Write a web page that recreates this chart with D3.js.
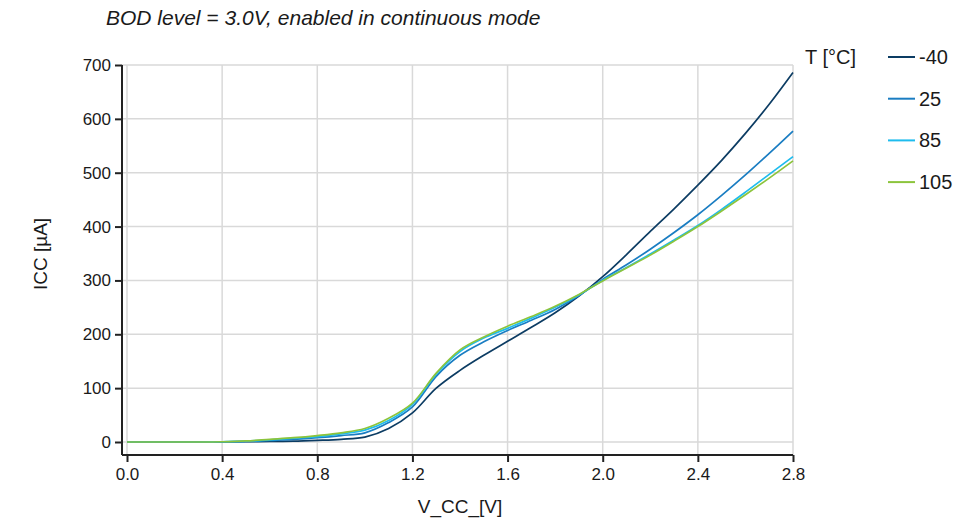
<!DOCTYPE html>
<html>
<head>
<meta charset="utf-8">
<script src="https://cdn.jsdelivr.net/npm/d3@7"></script>
<style>
  html, body { margin: 0; padding: 0; background: #fff; }
  svg { display: block; font-family: "Liberation Sans", Arial, sans-serif; }
</style>
</head>
<body>
<svg id="chart" width="954" height="520"></svg>
<script>
const voltages = [0.0,0.1,0.2,0.3,0.4,0.5,0.6,0.7,0.8,0.9,1.0,1.1,1.2,1.3,1.4,1.5,1.6,1.7,1.8,1.9,2.0,2.1,2.2,2.3,2.4,2.5,2.6,2.7,2.8];
const seriesNames = ["-40", "25", "85", "105"];
const icc_m40 = [0,0,0,0,0,0.5,1,1.5,3,5,9,25,54,100,133,161,187,213,240,271,307,348,391,433,477,523,573,627,686];
const icc_25  = [0,0,0,0,0,1,3,5,8,12,17,36,65,122,161,186,207,226,246,272,302,329,358,389,422,458,496,536,577];
const icc_85  = [0,0,0,0,0.5,1.5,4,7,10,15,22,40,70,126,168,193,211,230,250,273,300,324,349,375,402,432,464,497,530];
const icc_105 = [0,0,0,0,0.5,2,5,8,12,17,25,44,72,128,171,195,215,233,252,274,299,323,347,373,400,429,459,490,522];
const seriesColors = ["#0c3c63", "#1a7dc2", "#1ebcee", "#8cc43c"];
const xTicks = [0.0,0.4,0.8,1.2,1.6,2.0,2.4,2.8];
const yTicks = [0,100,200,300,400,500,600,700];

const titleText = "BOD level = 3.0V, enabled in continuous mode";
const xLabel = "V_CC_[V]";
const yLabel = "ICC [µA]";
const legendTitle = "T [°C]";

const allSeries = [icc_m40, icc_25, icc_85, icc_105];

const svg = d3.select("#chart");
const x = d3.scaleLinear().domain([0, 2.8]).range([127, 793]);
const y = d3.scaleLinear().domain([0, 700]).range([442, 65]);
const axisX0 = 122, axisY0 = 455;

// grid
const grid = svg.append("g").attr("stroke", "#d9d9d9").attr("stroke-width", 1.5);
grid.selectAll("line.v").data(xTicks).enter().append("line")
  .attr("x1", d => x(d)).attr("x2", d => x(d)).attr("y1", y(700)).attr("y2", axisY0);
grid.selectAll("line.h").data(yTicks).enter().append("line")
  .attr("x1", axisX0).attr("x2", x(2.8)).attr("y1", d => y(d)).attr("y2", d => y(d));

// axes
const xAxis = d3.axisBottom(x).tickValues(xTicks).tickFormat(d3.format(".1f")).tickSize(7).tickSizeOuter(0).tickPadding(6);
const gx = svg.append("g").attr("transform", `translate(0,${axisY0})`).call(xAxis);
gx.select(".domain").attr("d", `M${axisX0},0H${x(2.8)}`);
const yAxis = d3.axisLeft(y).tickValues(yTicks).tickSize(7).tickSizeOuter(0).tickPadding(4);
const gy = svg.append("g").attr("transform", `translate(${axisX0},0)`).call(yAxis);
gy.select(".domain").attr("d", `M0,${y(700)}V${axisY0}`);
[gx, gy].forEach(g => {
  g.select(".domain").attr("stroke", "#222").attr("stroke-width", 2);
  g.selectAll(".tick line").attr("stroke", "#222").attr("stroke-width", 2);
  g.selectAll(".tick text").attr("fill", "#1a1a1a").style("font-size", "17px").style("font-family", "Liberation Sans, Arial, sans-serif");
});

// lines
const line = d3.line().x((d, i) => x(voltages[i])).y(d => y(d)).curve(d3.curveCatmullRom.alpha(0.5));
svg.append("g").selectAll("path").data([0, 1, 2, 3]).enter().append("path")
  .attr("d", i => line(allSeries[i]))
  .attr("fill", "none")
  .attr("stroke", i => seriesColors[i])
  .attr("stroke-width", 1.7);

// title
svg.append("text").attr("x", 106).attr("y", 25)
  .style("font-style", "italic").style("font-size", "21px").attr("fill", "#1a1a1a")
  .text(titleText);

// axis labels
svg.append("text").attr("x", 460).attr("y", 513).attr("text-anchor", "middle")
  .style("font-size", "19px").attr("fill", "#1a1a1a").text(xLabel);
svg.append("text").attr("transform", "translate(47,254) rotate(-90)").attr("text-anchor", "middle")
  .style("font-size", "19px").attr("fill", "#1a1a1a").text(yLabel);

// legend
svg.append("text").attr("x", 805).attr("y", 64).style("font-size", "20px").attr("fill", "#1a1a1a").text(legendTitle);
const lg = svg.append("g").selectAll("g").data(seriesNames).enter().append("g")
  .attr("transform", (d, i) => `translate(0,${57 + i * 41.7})`);
lg.append("line").attr("x1", 888).attr("x2", 915).attr("y1", 0).attr("y2", 0)
  .attr("stroke", (d, i) => seriesColors[i]).attr("stroke-width", 2);
lg.append("text").attr("x", 919).attr("y", 7).style("font-size", "20px").attr("fill", "#1a1a1a").text(d => d);
</script>
</body>
</html>
